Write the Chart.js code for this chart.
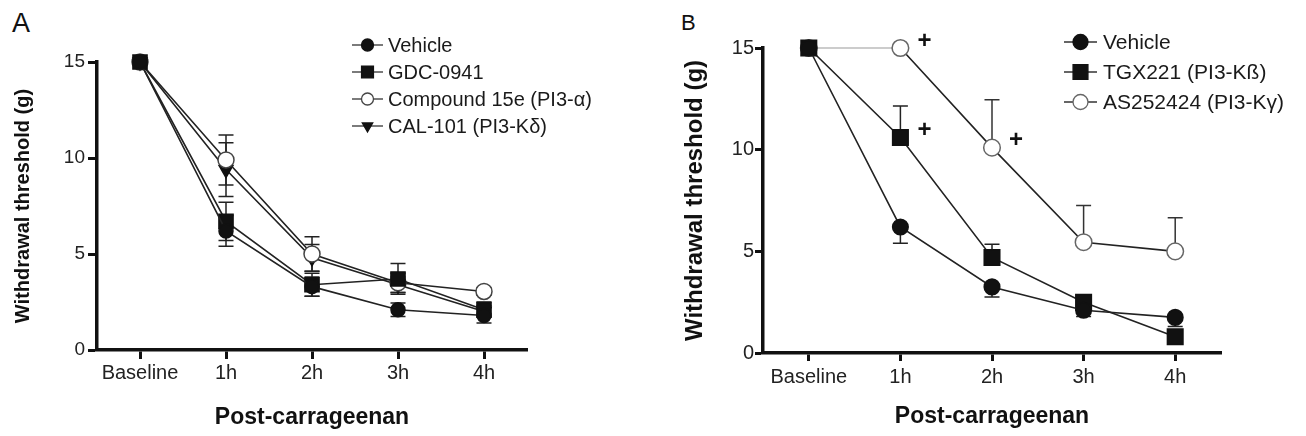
<!DOCTYPE html>
<html>
<head>
<meta charset="utf-8">
<script src="https://cdn.jsdelivr.net/npm/chart.js@4.4.1/dist/chart.umd.min.js"></script>
<style>
  body { margin: 0; background: #fff; width: 1306px; height: 436px; position: relative; overflow: hidden; font-family: "Liberation Sans", Arial, sans-serif; }
  .panel { position: absolute; top: 0; height: 436px; }
  #wrapA { left: 0; width: 640px; }
  #wrapB { left: 660px; width: 646px; }
  .tag { position: absolute; color: #111; }
</style>
</head>
<body>
<div class="tag" style="left:12px;top:8px;font-size:27px">A</div>
<div class="tag" style="left:681px;top:10px;font-size:22px">B</div>
<div class="panel" id="wrapA"><canvas id="chartA"></canvas></div>
<div class="panel" id="wrapB"><canvas id="chartB"></canvas></div>
<script>
// shared axis values
const timepoints = ["Baseline", "1h", "2h", "3h", "4h"];
const yTicks = [0, 5, 10, 15];

// Panel A: means and SEM (g)
const vehicleA = [15, 6.2, 3.3, 2.1, 1.8];
const vehicleErrA = [0, 0.8, 0.5, 0.35, 0.4];
const gdcA = [15, 6.7, 3.4, 3.7, 2.1];
const gdcErrA = [0, 1.0, 0.6, 0.8, 0.4];
const cmpdA = [15, 9.9, 5.0, 3.5, 3.05];
const cmpdErrA = [0, 1.3, 0.9, 0.5, 0.2];
const calA = [15, 9.4, 4.8, 3.4, 2.0];
const calErrA = [0, 1.4, 0.7, 0.4, 0.3];

// Panel B: means and SEM (g)
const vehicleB = [15, 6.2, 3.25, 2.1, 1.75];
const vehicleErrB = [0, 0.8, 0.5, 0.3, 0.45];
const tgxB = [15, 10.6, 4.7, 2.5, 0.8];
const tgxErrB = [0, 1.55, 0.65, 0.2, 0.1];
const asB = [15, 15, 10.1, 5.45, 5.0];
const asErrB = [0, 0, 2.35, 1.8, 1.65];

// significance marks in B: [series, timepoint]
const plusMarksB = [["AS252424 (PI3-Kγ)", "1h"], ["TGX221 (PI3-Kß)", "1h"], ["AS252424 (PI3-Kγ)", "2h"]];

const FONT = "'Liberation Sans', Arial, sans-serif";
Chart.defaults.font.family = FONT;
Chart.defaults.color = "#1a1a1a";

function drawMarker(ctx, style, x, y, r, fill, stroke, lw) {
  ctx.beginPath();
  if (style === "rect") {
    const h = r * Math.SQRT1_2;
    ctx.rect(x - h, y - h, 2 * h, 2 * h);
  } else if (style === "triangle") {
    ctx.moveTo(x, y + r);
    ctx.lineTo(x - r * 0.866, y - r / 2);
    ctx.lineTo(x + r * 0.866, y - r / 2);
    ctx.closePath();
  } else {
    ctx.arc(x, y, r, 0, Math.PI * 2);
  }
  ctx.fillStyle = fill;
  ctx.fill();
  ctx.lineWidth = lw;
  ctx.strokeStyle = stroke;
  ctx.stroke();
}

// error bars, drawn under the markers
const errorBars = {
  id: "errorBars",
  beforeDatasetsDraw(chart) {
    const ctx = chart.ctx, ys = chart.scales.y;
    chart.data.datasets.forEach((ds, i) => {
      if (!ds.errors) return;
      const meta = chart.getDatasetMeta(i);
      ctx.save();
      ctx.strokeStyle = ds.errorColor || "#222";
      ctx.lineWidth = 1.5;
      meta.data.forEach((pt, j) => {
        const e = ds.errors[j];
        if (!e) return;
        const v = ds.data[j];
        const yHi = ys.getPixelForValue(ds.errorDir < 0 ? v : v + e);
        const yLo = ys.getPixelForValue(ds.errorDir > 0 ? v : v - e);
        ctx.beginPath();
        ctx.moveTo(pt.x, yHi);
        ctx.lineTo(pt.x, yLo);
        if (ds.errorDir >= 0) { ctx.moveTo(pt.x - 7.5, yHi); ctx.lineTo(pt.x + 7.5, yHi); }
        if (ds.errorDir <= 0) { ctx.moveTo(pt.x - 7.5, yLo); ctx.lineTo(pt.x + 7.5, yLo); }
        ctx.stroke();
      });
      ctx.restore();
    });
  }
};

// GraphPad-like legend: short line with the marker on it
const lineLegend = {
  id: "lineLegend",
  afterDraw(chart, args, o) {
    const ctx = chart.ctx;
    ctx.save();
    ctx.font = o.font;
    ctx.textBaseline = "middle";
    chart.data.datasets.forEach((ds, i) => {
      const y = o.y + i * o.gap;
      ctx.strokeStyle = "#333";
      ctx.lineWidth = 1.3;
      ctx.beginPath();
      ctx.moveTo(o.x, y);
      ctx.lineTo(o.x + o.lineLen, y);
      ctx.stroke();
      const r = ds.pointStyle === "rect" ? o.r * 1.4 : o.r;
      drawMarker(ctx, ds.pointStyle, o.x + o.lineLen / 2, y, r, ds.pointBackgroundColor, ds.pointBorderColor, 1.3);
      ctx.fillStyle = "#1a1a1a";
      ctx.fillText(ds.label, o.x + o.lineLen + o.textGap, y + 1);
    });
    ctx.restore();
  }
};

const plusMarks = {
  id: "plusMarks",
  afterDatasetsDraw(chart, args, o) {
    if (!o.marks) return;
    const ctx = chart.ctx;
    ctx.save();
    ctx.font = o.font;
    ctx.fillStyle = "#111";
    ctx.textAlign = "center";
    ctx.textBaseline = "middle";
    o.marks.forEach(([label, cat]) => {
      const i = chart.data.datasets.findIndex(d => d.label === label);
      const j = chart.data.labels.indexOf(cat);
      const pt = chart.getDatasetMeta(i).data[j];
      ctx.fillText("+", pt.x + o.dx, pt.y + o.dy);
    });
    ctx.restore();
  }
};

function series(label, data, errors, style, r, fill, stroke, extra) {
  return Object.assign({
    label, data, errors,
    errorDir: 0,
    borderColor: "#222",
    borderWidth: 1.6,
    tension: 0,
    fill: false,
    clip: false,
    pointStyle: style,
    pointRadius: r,
    pointHoverRadius: r,
    pointBackgroundColor: fill,
    pointBorderColor: stroke,
    pointBorderWidth: 1.5
  }, extra || {});
}

function makeScales(o) {
  const tickGrid = { drawOnChartArea: false, drawTicks: true, tickLength: o.tickLen, tickWidth: 3, tickColor: "#111" };
  return {
    x: {
      type: "category",
      offset: true,
      afterFit: s => { s.height = o.xHeight; },
      border: { display: true, width: 3.5, color: "#111" },
      grid: tickGrid,
      ticks: { color: "#222", font: { size: 20 }, padding: o.xTickPad, maxRotation: 0, autoSkip: false },
      title: { display: true, text: "Post-carrageenan", color: "#111", font: { size: 23, weight: "bold" }, padding: { top: 0, bottom: o.xTitlePad } }
    },
    y: {
      min: 0,
      max: 15,
      afterFit: s => { s.width = o.yWidth; },
      afterBuildTicks: s => { s.ticks = yTicks.map(v => ({ value: v })); },
      border: { display: true, width: 3.5, color: "#111" },
      grid: tickGrid,
      ticks: { color: "#222", font: { size: o.yTickSize }, padding: o.yTickPad },
      title: { display: true, text: "Withdrawal threshold (g)", color: "#111", font: { size: o.yTitleSize, weight: "bold" }, padding: { top: 4, bottom: 0 } }
    }
  };
}

new Chart(document.getElementById("chartA"), {
  type: "line",
  data: {
    labels: timepoints,
    datasets: [
      series("Vehicle", vehicleA, vehicleErrA, "circle", 7, "#111", "#111"),
      series("GDC-0941", gdcA, gdcErrA, "rect", 10, "#111", "#111"),
      series("Compound 15e (PI3-α)", cmpdA, cmpdErrA, "circle", 8, "#fff", "#444"),
      series("CAL-101 (PI3-Kδ)", calA, calErrA, "triangle", 8, "#111", "#111", { pointRotation: 180 })
    ]
  },
  options: {
    responsive: true,
    maintainAspectRatio: false,
    animation: false,
    layout: { padding: { left: 7, right: 113, top: 62, bottom: 0 } },
    scales: makeScales({ xHeight: 86, tickLen: 9, xTickPad: 2, xTitlePad: 5, yWidth: 90, yTickSize: 19, yTickPad: 3, yTitleSize: 20 }),
    plugins: {
      legend: { display: false },
      tooltip: { enabled: false },
      lineLegend: { x: 352, y: 45, gap: 27, lineLen: 31, textGap: 5, r: 6, font: "20px " + FONT }
    }
  },
  plugins: [errorBars, lineLegend]
});

new Chart(document.getElementById("chartB"), {
  type: "line",
  data: {
    labels: timepoints,
    datasets: [
      series("Vehicle", vehicleB, vehicleErrB, "circle", 7.8, "#111", "#111", { errorDir: -1 }),
      series("TGX221 (PI3-Kß)", tgxB, tgxErrB, "rect", 11, "#111", "#111", { errorDir: 1 }),
      series("AS252424 (PI3-Kγ)", asB, asErrB, "circle", 8.3, "#fff", "#666", {
        errorDir: 1,
        errorColor: "#333",
        segment: {
          borderColor: c => (c.p0DataIndex === 0 ? "#999" : undefined),
          borderWidth: c => (c.p0DataIndex === 0 ? 1 : undefined)
        }
      })
    ]
  },
  options: {
    responsive: true,
    maintainAspectRatio: false,
    animation: false,
    layout: { padding: { left: 17, right: 85, top: 48, bottom: 0 } },
    scales: makeScales({ xHeight: 83, tickLen: 8, xTickPad: 4, xTitlePad: 6, yWidth: 86, yTickSize: 20, yTickPad: 1, yTitleSize: 24 }),
    plugins: {
      legend: { display: false },
      tooltip: { enabled: false },
      lineLegend: { x: 404, y: 42, gap: 30, lineLen: 33, textGap: 6, r: 7.5, font: "21px " + FONT },
      plusMarks: { marks: plusMarksB, dx: 24, dy: -7, font: "bold 24px " + FONT }
    }
  },
  plugins: [errorBars, lineLegend, plusMarks]
});
</script>
</body>
</html>
